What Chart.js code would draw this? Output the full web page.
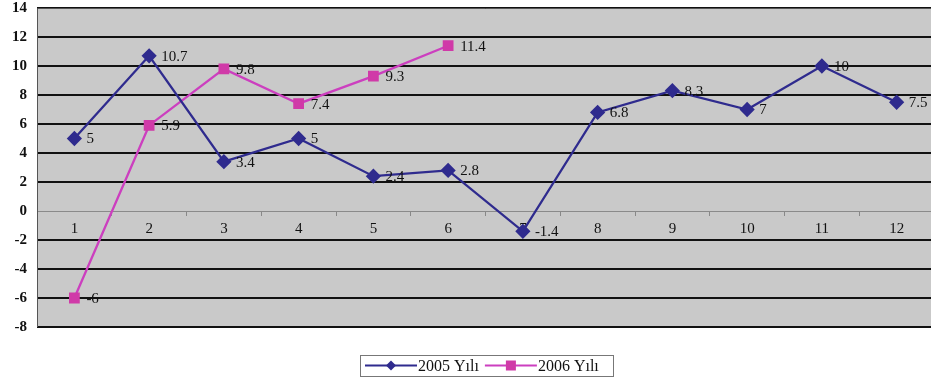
<!DOCTYPE html>
<html>
<head>
<meta charset="utf-8">
<script src="https://cdn.jsdelivr.net/npm/chart.js@4/dist/chart.umd.min.js"></script>
<style>
  html, body { margin: 0; padding: 0; background: #fff; overflow: hidden; }
  #wrap { position: relative; width: 934px; height: 384px; }
</style>
</head>
<body>
<div id="wrap"><canvas id="c" width="934" height="384"></canvas></div>
<script>
const months = ['1', '2', '3', '4', '5', '6', '7', '8', '9', '10', '11', '12'];
const series2005 = [5, 10.7, 3.4, 5, 2.4, 2.8, -1.4, 6.8, 8.3, 7, 10, 7.5];
const series2006 = [-6, 5.9, 9.8, 7.4, 9.3, 11.4, null, null, null, null, null, null];
const seriesNames = ['2005 Yılı', '2006 Yılı'];
const yMin = -8, yMax = 14, yStep = 2;

const SERIF = '"Liberation Serif", "DejaVu Serif", serif';
const NAVY = '#2f2b8e';
const MAGENTA = '#cc3fbf';
const MAGENTA_MARK = '#d03aa8';

// Gray plot background and frame
const plotBackground = {
  id: 'plotBackground',
  beforeDraw(chart) {
    const { ctx, chartArea: a } = chart;
    ctx.save();
    ctx.fillStyle = '#c9c9c9';
    ctx.fillRect(a.left, a.top, a.right - a.left, a.bottom - a.top);
    ctx.restore();
  },
  afterDraw(chart) {
    const { ctx, chartArea: a } = chart;
    ctx.save();
    ctx.strokeStyle = '#555';
    ctx.lineWidth = 1;
    ctx.beginPath();
    ctx.moveTo(a.left + 0.5, a.bottom);
    ctx.lineTo(a.left + 0.5, a.top + 0.5);
    ctx.lineTo(a.right, a.top + 0.5);
    ctx.stroke();
    ctx.restore();
  }
};

// Value labels to the right of every point
const valueLabels = {
  id: 'valueLabels',
  afterDatasetsDraw(chart) {
    const { ctx } = chart;
    ctx.save();
    ctx.font = '15px ' + SERIF;
    ctx.fillStyle = '#111';
    ctx.textBaseline = 'middle';
    ctx.textAlign = 'left';
    chart.data.datasets.forEach((ds, i) => {
      const meta = chart.getDatasetMeta(i);
      meta.data.forEach((pt, j) => {
        const v = ds.data[j];
        if (v === null || v === undefined) return;
        ctx.fillText(String(v), pt.x + 12, pt.y + 1);
      });
    });
    ctx.restore();
  }
};

// Boxed legend with line + marker swatches
const boxLegend = {
  id: 'boxLegend',
  afterDraw(chart) {
    const { ctx } = chart;
    const box = { x: 360, y: 355, w: 253, h: 21 };
    const cy = box.y + box.h / 2;
    ctx.save();
    ctx.fillStyle = '#fff';
    ctx.fillRect(box.x, box.y, box.w, box.h);
    ctx.strokeStyle = '#777';
    ctx.lineWidth = 1;
    ctx.strokeRect(box.x + 0.5, box.y + 0.5, box.w, box.h);
    ctx.font = '16px ' + SERIF;
    ctx.textBaseline = 'middle';
    ctx.fillStyle = '#111';
    let x = box.x + 5;
    chart.data.datasets.forEach((ds, i) => {
      const lineLen = 52;
      ctx.strokeStyle = ds.borderColor;
      ctx.lineWidth = 2;
      ctx.beginPath();
      ctx.moveTo(x, cy);
      ctx.lineTo(x + lineLen, cy);
      ctx.stroke();
      const mx = x + lineLen / 2;
      ctx.fillStyle = ds.pointBackgroundColor;
      if (ds.pointStyle === 'rectRot') {
        ctx.beginPath();
        ctx.moveTo(mx, cy - 5);
        ctx.lineTo(mx + 5, cy);
        ctx.lineTo(mx, cy + 5);
        ctx.lineTo(mx - 5, cy);
        ctx.closePath();
        ctx.fill();
      } else {
        ctx.fillRect(mx - 5, cy - 5, 10, 10);
      }
      ctx.fillStyle = '#111';
      ctx.fillText(ds.label, x + lineLen + 1, cy + 1);
      x += lineLen + 1 + ctx.measureText(ds.label).width + 6;
    });
    ctx.restore();
  }
};

function noPadding(scale) {
  scale.paddingTop = 0;
  scale.paddingBottom = 0;
  scale.paddingLeft = 0;
  scale.paddingRight = 0;
}

new Chart(document.getElementById('c'), {
  type: 'line',
  data: {
    labels: months,
    datasets: [
      {
        label: seriesNames[0],
        data: series2005,
        borderColor: NAVY,
        backgroundColor: NAVY,
        pointBackgroundColor: NAVY,
        pointBorderColor: NAVY,
        pointStyle: 'rectRot',
        pointRadius: 6,
        borderWidth: 2.3,
        tension: 0
      },
      {
        label: seriesNames[1],
        data: series2006,
        borderColor: MAGENTA,
        backgroundColor: MAGENTA_MARK,
        pointBackgroundColor: MAGENTA_MARK,
        pointBorderColor: MAGENTA_MARK,
        pointStyle: 'rect',
        pointRadius: 6,
        borderWidth: 2.3,
        tension: 0,
        spanGaps: false
      }
    ]
  },
  options: {
    responsive: false,
    animation: false,
    events: [],
    layout: { autoPadding: false, padding: { top: 8, bottom: 57, left: 0, right: 0 } },
    plugins: {
      legend: { display: false },
      tooltip: { enabled: false },
      title: { display: false }
    },
    scales: {
      x: {
        position: { y: 0 },
        offset: true,
        afterFit: noPadding,
        grid: {
          display: true,
          offset: true,
          drawOnChartArea: false,
          drawTicks: true,
          tickLength: 4,
          color: '#888'
        },
        border: { display: true, color: '#8a8a8a', width: 1 },
        ticks: {
          color: '#111',
          font: { family: SERIF, size: 15 },
          padding: 5,
          maxRotation: 0,
          autoSkip: false
        }
      },
      y: {
        min: yMin,
        max: yMax,
        afterFit(scale) { scale.width = 37; noPadding(scale); },
        ticks: {
          stepSize: yStep,
          color: '#111',
          font: { family: SERIF, size: 15, weight: 'bold' },
          padding: 10
        },
        grid: {
          drawTicks: false,
          color: ctx => (ctx.tick && ctx.tick.value === 0) ? 'rgba(0,0,0,0)' : '#111',
          lineWidth: ctx => (ctx.tick && ctx.tick.value === 0) ? 0 : 2
        },
        border: { display: false }
      }
    }
  },
  plugins: [plotBackground, valueLabels, boxLegend]
});
</script>
</body>
</html>
